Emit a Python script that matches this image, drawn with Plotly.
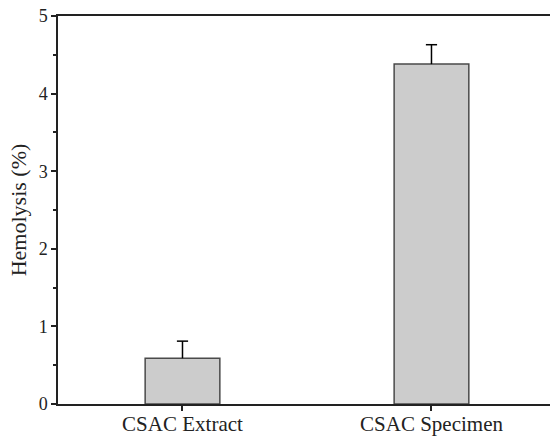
import plotly.graph_objects as go

categories = ["CSAC Extract", "CSAC Specimen"]
hemolysis = [0.59, 4.38]
errors = [0.22, 0.25]
y_ticks = [0, 1, 2, 3, 4, 5]

err_tops = [v + e for v, e in zip(hemolysis, errors)]

fig = go.Figure()
fig.add_trace(go.Bar(
    x=categories, y=hemolysis, width=0.3,
    marker=dict(color="#cccccc", line=dict(color="#4a4a4a", width=1.5)),
))
# upper-only error bars: stem from bar top to cap
for c, v, t in zip(categories, hemolysis, err_tops):
    fig.add_trace(go.Scatter(
        x=[c, c], y=[v, t], mode="lines",
        line=dict(color="black", width=1.5), hoverinfo="skip",
    ))
fig.add_trace(go.Scatter(
    x=categories, y=err_tops, mode="markers",
    marker=dict(symbol="line-ew", size=8, line=dict(color="black", width=1.5)),
    hoverinfo="skip",
))

font = "Liberation Serif, Times New Roman, serif"
fig.update_layout(
    width=550, height=436,
    margin=dict(l=58, r=0, t=16, b=32),
    plot_bgcolor="white", paper_bgcolor="white",
    showlegend=False,
    font=dict(family=font, size=18, color="#222"),
)
fig.update_xaxes(
    range=[-0.5, 1.476], showline=True, linecolor="#222", linewidth=1.5,
    mirror=True, ticks="outside", ticklen=5, tickwidth=1.5, tickcolor="#222",
    tickfont=dict(size=21), ticklabelstandoff=-5,
    showgrid=False, zeroline=False, automargin=False,
)
fig.update_yaxes(
    range=[0, 5], tickvals=y_ticks, showline=True, linecolor="#222", linewidth=1.5,
    ticks="outside", ticklen=5, tickwidth=1.5, tickcolor="#222",
    minor=dict(dtick=0.5, ticks="outside", ticklen=3, tickwidth=1.5, tickcolor="#222"),
    tickfont=dict(size=18), showgrid=False, zeroline=False, automargin=False,
    title=dict(text="Hemolysis (%)", font=dict(size=22), standoff=6),
)
fig.write_html("out.html")
